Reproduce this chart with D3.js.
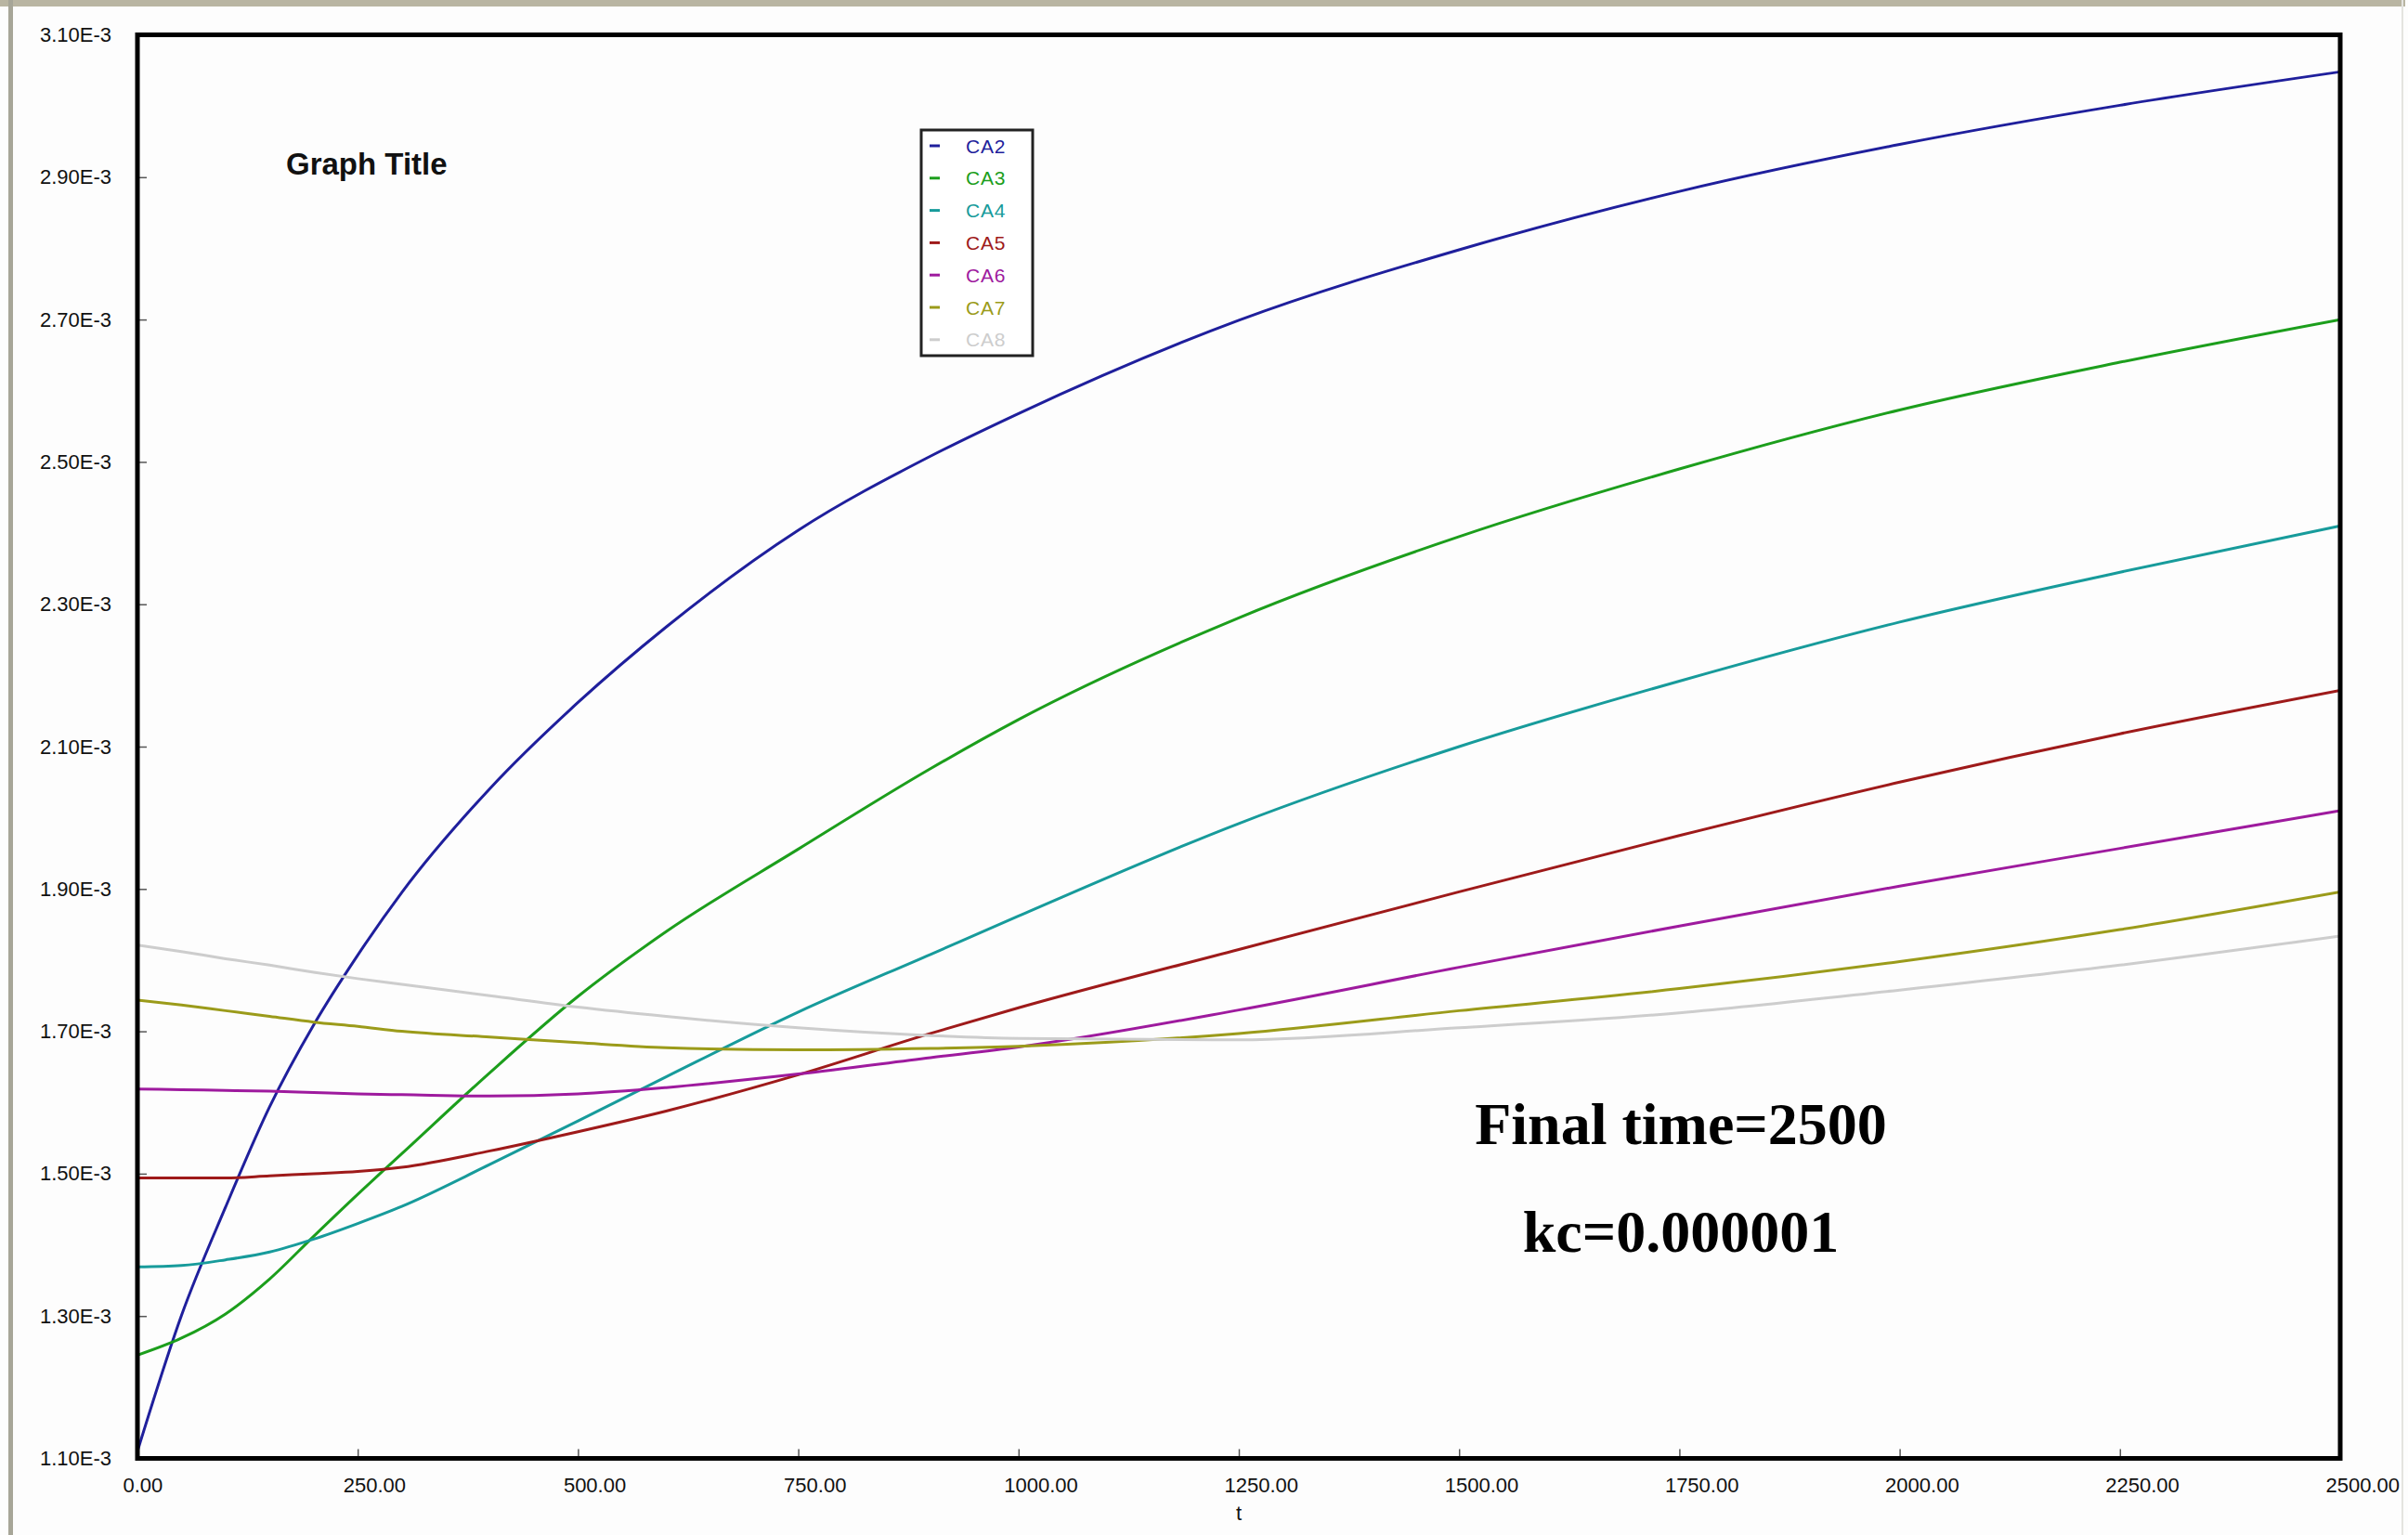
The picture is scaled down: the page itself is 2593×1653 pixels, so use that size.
<!DOCTYPE html>
<html>
<head>
<meta charset="utf-8">
<script src="https://cdn.jsdelivr.net/npm/d3@7"></script>
<style>
  html, body { margin: 0; padding: 0; background: #fdfdfd; }
  svg { display: block; }
</style>
</head>
<body>
<svg id="chart" width="2593" height="1653"></svg>
<script>
// Time grid (t) shared by every concentration series
const times = [0, 50, 100, 150, 200, 250, 300, 400, 500, 600, 750, 900, 1000, 1250, 1500, 1750, 2000, 2250, 2500];

// Concentrations, in units of 1E-3
const CA2 = [1.110, 1.301, 1.453, 1.594, 1.709, 1.807, 1.895, 2.041, 2.162, 2.268, 2.404, 2.508, 2.568, 2.699, 2.798, 2.880, 2.946, 3.001, 3.048];
const CA3 = [1.245, 1.269, 1.303, 1.352, 1.412, 1.471, 1.528, 1.642, 1.749, 1.840, 1.956, 2.069, 2.138, 2.281, 2.395, 2.490, 2.573, 2.640, 2.700];
const CA4 = [1.369, 1.371, 1.379, 1.390, 1.408, 1.430, 1.454, 1.513, 1.574, 1.636, 1.727, 1.808, 1.862, 1.992, 2.100, 2.192, 2.275, 2.345, 2.410];
const CA5 = [1.494, 1.494, 1.494, 1.497, 1.500, 1.503, 1.509, 1.532, 1.559, 1.588, 1.639, 1.697, 1.733, 1.815, 1.896, 1.975, 2.050, 2.118, 2.179];
const CA6 = [1.619, 1.618, 1.617, 1.616, 1.614, 1.612, 1.611, 1.609, 1.612, 1.621, 1.640, 1.663, 1.678, 1.730, 1.790, 1.848, 1.904, 1.957, 2.010];
const CA7 = [1.744, 1.737, 1.729, 1.721, 1.713, 1.707, 1.700, 1.692, 1.684, 1.677, 1.674, 1.676, 1.679, 1.697, 1.729, 1.760, 1.798, 1.843, 1.896];
const CA8 = [1.821, 1.812, 1.802, 1.793, 1.783, 1.774, 1.766, 1.750, 1.734, 1.721, 1.705, 1.694, 1.690, 1.688, 1.705, 1.726, 1.758, 1.793, 1.834];

const seriesNames = ["CA2", "CA3", "CA4", "CA5", "CA6", "CA7", "CA8"];
const seriesValues = [CA2, CA3, CA4, CA5, CA6, CA7, CA8];
const seriesColors = ["#1f1f9c", "#1c9e1c", "#179b9b", "#9e1a1a", "#9e1a9e", "#9b9b1a", "#cdcdcd"];

const xTickValues = [0, 250, 500, 750, 1000, 1250, 1500, 1750, 2000, 2250, 2500];
const yTickValues = [1.10, 1.30, 1.50, 1.70, 1.90, 2.10, 2.30, 2.50, 2.70, 2.90, 3.10];

const graphTitle = "Graph Title";
const xAxisTitle = "t";
const noteLines = ["Final time=2500", "kc=0.000001"];

const svg = d3.select("#chart");

// Window chrome around the plot
svg.append("rect").attr("x", 0).attr("y", 0).attr("width", 2593).attr("height", 1653).attr("fill", "#fdfdfd");
svg.append("rect").attr("x", 0).attr("y", 0).attr("width", 2590).attr("height", 7).attr("fill", "#b9b5a2");
svg.append("rect").attr("x", 9).attr("y", 0).attr("width", 5).attr("height", 1653).attr("fill", "#a7a698");
svg.append("rect").attr("x", 2586).attr("y", 0).attr("width", 2).attr("height", 1653).attr("fill", "#e4e4e0");

const plot = { left: 148, right: 2520, top: 37.5, bottom: 1570.5 };

const x = d3.scaleLinear().domain([0, 2500]).range([plot.left, plot.right]);
const y = d3.scaleLinear().domain([1.10, 3.10]).range([plot.bottom, plot.top]);

const axisFont = "'Liberation Sans', Arial, sans-serif";
const axisFontSize = 22;

// Y axis: ticks point into the plot, labels in E-3 notation
const yAxis = d3.axisLeft(y)
  .tickValues(yTickValues)
  .tickSizeInner(-10)
  .tickSizeOuter(0)
  .tickPadding(28)
  .tickFormat(d => d.toFixed(2) + "E-3");

const gy = svg.append("g").attr("transform", `translate(${plot.left},0)`).call(yAxis);
gy.select(".domain").remove();
gy.selectAll(".tick line").attr("stroke", "#555").attr("stroke-width", 1.5);
gy.selectAll(".tick text").attr("font-family", axisFont).attr("font-size", axisFontSize).attr("fill", "#111");

// X axis: labels start a little left of their tick
const xAxis = d3.axisBottom(x)
  .tickValues(xTickValues)
  .tickSizeInner(-10)
  .tickSizeOuter(0)
  .tickPadding(21)
  .tickFormat(d => d.toFixed(2));

const gx = svg.append("g").attr("transform", `translate(0,${plot.bottom})`).call(xAxis);
gx.select(".domain").remove();
gx.selectAll(".tick line").attr("stroke", "#555").attr("stroke-width", 1.5);
gx.selectAll(".tick text")
  .attr("font-family", axisFont)
  .attr("font-size", axisFontSize)
  .attr("fill", "#111")
  .attr("text-anchor", "start")
  .attr("x", -16);

svg.append("text")
  .attr("x", (plot.left + plot.right) / 2)
  .attr("y", 1637)
  .attr("text-anchor", "middle")
  .attr("font-family", axisFont)
  .attr("font-size", axisFontSize)
  .attr("fill", "#111")
  .text(xAxisTitle);

// Series lines
const line = d3.line()
  .x((d, i) => x(times[i]))
  .y(d => y(d))
  .curve(d3.curveMonotoneX);

const clipId = "plot-clip";
svg.append("clipPath").attr("id", clipId)
  .append("rect")
  .attr("x", plot.left).attr("y", plot.top)
  .attr("width", plot.right - plot.left).attr("height", plot.bottom - plot.top);

svg.append("g").attr("clip-path", `url(#${clipId})`)
  .selectAll("path")
  .data(seriesValues)
  .join("path")
  .attr("d", d => line(d))
  .attr("fill", "none")
  .attr("stroke", (d, i) => seriesColors[i])
  .attr("stroke-width", 3)
  .attr("stroke-linejoin", "round");

// Plot frame
svg.append("rect")
  .attr("x", plot.left).attr("y", plot.top)
  .attr("width", plot.right - plot.left).attr("height", plot.bottom - plot.top)
  .attr("fill", "none")
  .attr("stroke", "#000")
  .attr("stroke-width", 5);

// Title
svg.append("text")
  .attr("x", 308)
  .attr("y", 188)
  .attr("font-family", axisFont)
  .attr("font-weight", "bold")
  .attr("font-size", 33)
  .attr("fill", "#111")
  .text(graphTitle);

// Legend
const legend = svg.append("g");
legend.append("rect")
  .attr("x", 992).attr("y", 140)
  .attr("width", 120).attr("height", 243)
  .attr("fill", "#fff")
  .attr("stroke", "#222")
  .attr("stroke-width", 3);

const items = legend.selectAll("g.item")
  .data(seriesNames)
  .join("g")
  .attr("class", "item")
  .attr("transform", (d, i) => `translate(0,${157 + i * 34.8})`);

items.append("line")
  .attr("x1", 1001).attr("x2", 1012)
  .attr("y1", 0).attr("y2", 0)
  .attr("stroke", (d, i) => seriesColors[i])
  .attr("stroke-width", 3);

items.append("text")
  .attr("x", 1040)
  .attr("y", 0)
  .attr("dy", "0.36em")
  .attr("font-family", axisFont)
  .attr("font-size", 21)
  .attr("letter-spacing", 0.8)
  .attr("fill", (d, i) => seriesColors[i])
  .text(d => d);

// Run parameters
svg.selectAll("text.note")
  .data(noteLines)
  .join("text")
  .attr("class", "note")
  .attr("x", 1810)
  .attr("y", (d, i) => 1232 + i * 116)
  .attr("text-anchor", "middle")
  .attr("font-family", "'Liberation Serif', 'Times New Roman', serif")
  .attr("font-weight", "bold")
  .attr("font-size", 64)
  .attr("fill", "#000")
  .text(d => d);
</script>
</body>
</html>
